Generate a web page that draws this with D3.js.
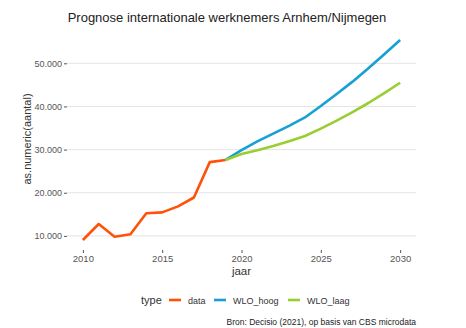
<!DOCTYPE html>
<html>
<head>
<meta charset="utf-8">
<script src="https://cdn.jsdelivr.net/npm/d3@7"></script>
<style>
  html, body { margin: 0; padding: 0; background: #fff; }
  svg { display: block; font-family: "Liberation Sans", "DejaVu Sans", sans-serif; }
</style>
</head>
<body>
<svg id="chart" width="466" height="328"></svg>
<script>
// Historic observations and the two WLO scenarios
const dataYears = [2010, 2011, 2012, 2013, 2014, 2015, 2016, 2017, 2018, 2019];
const dataValues = [9050, 12750, 9800, 10400, 15250, 15450, 16850, 18900, 27100, 27600];

const wloYears = [2019, 2020, 2021, 2022, 2023, 2024, 2025, 2026, 2027, 2028, 2029, 2030];
const wloHoog = [27600, 29900, 31900, 33700, 35500, 37450, 40100, 42900, 45750, 48850, 52100, 55400];
const wloLaag = [27600, 29000, 29850, 30850, 31950, 33150, 34850, 36700, 38700, 40800, 43100, 45500];

const xTicks = [2010, 2015, 2020, 2025, 2030];
const yTicks = [10000, 20000, 30000, 40000, 50000];

const seriesNames = ["data", "WLO_hoog", "WLO_laag"];
const seriesColors = ["#ff5208", "#16a0d4", "#9acd32"];

const series = [
  { name: "data", years: dataYears, values: dataValues },
  { name: "WLO_hoog", years: wloYears, values: wloHoog },
  { name: "WLO_laag", years: wloYears, values: wloLaag }
];

const svg = d3.select("#chart");
const panel = { left: 67, right: 416, top: 30, bottom: 250 };

// Scales with a 5% padding on both axes
const allYears = dataYears.concat(wloYears);
const allValues = dataValues.concat(wloHoog, wloLaag);
const [x0, x1] = d3.extent(allYears);
const [y0, y1] = d3.extent(allValues);
const xPad = (x1 - x0) * 0.05, yPad = (y1 - y0) * 0.05;

const x = d3.scaleLinear().domain([x0 - xPad, x1 + xPad]).range([panel.left, panel.right]);
const y = d3.scaleLinear().domain([y0 - yPad, y1 + yPad]).range([panel.bottom, panel.top]);
const color = d3.scaleOrdinal().domain(seriesNames).range(seriesColors);

const fmt = v => d3.format(",")(v).replace(/,/g, ".");

// Horizontal grid lines
svg.append("g").selectAll("line").data(yTicks).join("line")
  .attr("x1", panel.left).attr("x2", panel.right)
  .attr("y1", d => y(d)).attr("y2", d => y(d))
  .attr("stroke", "#e4e4e4").attr("stroke-width", 1);

// Y axis
const yAxis = svg.append("g")
  .attr("transform", `translate(${panel.left},0)`)
  .call(d3.axisLeft(y).tickValues(yTicks).tickFormat(fmt).tickSize(3).tickPadding(2));
yAxis.select(".domain").remove();
yAxis.selectAll(".tick line").attr("stroke", "#555");
yAxis.selectAll(".tick text").attr("fill", "#555").attr("font-size", 9);

// X axis
const xAxis = svg.append("g")
  .attr("transform", `translate(0,${panel.bottom})`)
  .call(d3.axisBottom(x).tickValues(xTicks).tickFormat(d3.format("d")).tickSize(3).tickPadding(2));
xAxis.select(".domain").remove();
xAxis.selectAll(".tick line").attr("stroke", "#555");
xAxis.selectAll(".tick text").attr("fill", "#555").attr("font-size", 9.5);

// Lines
const line = d3.line().x(d => x(d[0])).y(d => y(d[1]));
svg.append("g").selectAll("path").data(series).join("path")
  .attr("d", s => line(s.years.map((yr, i) => [yr, s.values[i]])))
  .attr("fill", "none")
  .attr("stroke", s => color(s.name))
  .attr("stroke-width", 2.6)
  .attr("stroke-linejoin", "round")
  .attr("stroke-linecap", "butt");

// Titles
svg.append("text").attr("x", 227).attr("y", 22).attr("text-anchor", "middle")
  .attr("font-size", 13).attr("fill", "#222")
  .text("Prognose internationale werknemers Arnhem/Nijmegen");

svg.append("text").attr("x", (panel.left + panel.right) / 2).attr("y", 275).attr("text-anchor", "middle")
  .attr("font-size", 11.5).attr("fill", "#333").text("jaar");

svg.append("text").attr("transform", "translate(31,139) rotate(-90)")
  .attr("text-anchor", "middle").attr("font-size", 11).attr("fill", "#333")
  .text("as.numeric(aantal)");

// Legend
const legend = svg.append("g").attr("transform", "translate(0,300)");
legend.append("text").attr("x", 141).attr("y", 4).attr("font-size", 11).attr("fill", "#333").text("type");
const keyX = [169, 214, 288];
seriesNames.forEach((n, i) => {
  legend.append("line").attr("x1", keyX[i]).attr("x2", keyX[i] + 12)
    .attr("y1", 0).attr("y2", 0).attr("stroke", color(n)).attr("stroke-width", 2.6);
  legend.append("text").attr("x", keyX[i] + 19).attr("y", 3.5)
    .attr("font-size", 9).attr("fill", "#333").text(n);
});

// Source note
svg.append("text").attr("x", panel.right).attr("y", 325).attr("text-anchor", "end")
  .attr("font-size", 8.5).attr("fill", "#222")
  .text("Bron: Decisio (2021), op basis van CBS microdata");
</script>
</body>
</html>
